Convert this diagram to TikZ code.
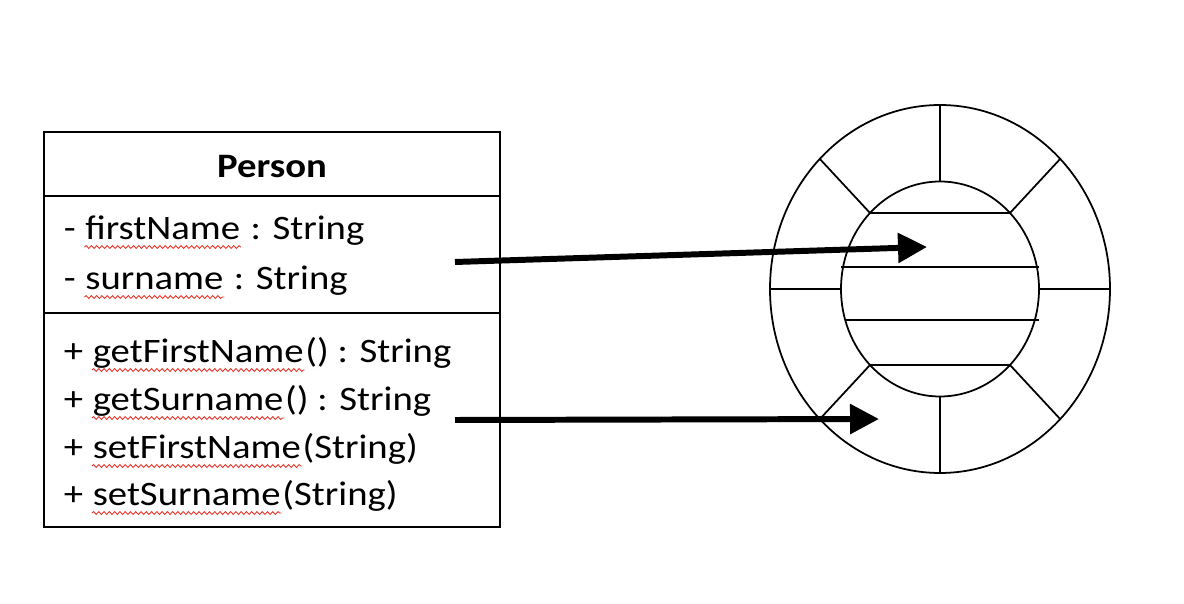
\documentclass[tikz,border=0pt]{standalone}
\usepackage{fontspec}
\setmainfont{Carlito}[FakeStretch=1.13]
\usetikzlibrary{arrows.meta,decorations.pathmorphing}
\definecolor{spellred}{RGB}{232,52,40}
\begin{document}
\begin{tikzpicture}[x=0.02cm,y=-0.02cm,line width=1pt,
	member/.style={anchor=base west,inner sep=0pt,font=\fontsize{19.5}{23}\selectfont},
	spell/.style={spellred,line width=0.5pt,decorate,decoration={snake,segment length=3pt,amplitude=0.8pt}},
	bigarrow/.style={line width=3.4pt,-{Triangle[length=16.5pt,width=16.5pt]}}]
		\useasboundingbox (0,0) rectangle (1184,604);
		% class box
		\draw (44,132) rectangle (500,527);
		\draw (44,196) -- (500,196);
		\draw (44,313) -- (500,313);
		\node[member,anchor=base,font=\fontsize{19.5}{23}\selectfont\bfseries] (cls) at (272,178) {Person};
		% members, with the spell-check underline below each name
		\foreach \y/\sign/\word/\rest in {240/-/firstName/{\ : String},290/-/surname/{\ : String},
			363/+/getFirstName/{() : String},411/+/getSurname/{() : String},
			459/+/setFirstName/{(String)},506/+/setSurname/{(String)}}
		{
			\node[member] (sign\y) at (63,\y) {\sign\kern0.23em};
			\node[member] (word\y) at (sign\y.base east) {\word};
			\node[member] (rest\y) at (word\y.base east) {\rest};
			\draw[spell] ([yshift=-4pt]word\y.base west) -- ([yshift=-4pt]word\y.base east);
		}
		% object ring
		\begin{scope}[shift={(940,289)}]
		\draw (0,0) ellipse [x radius=170,y radius=184];
		\draw (0,0) ellipse [x radius=99,y radius=107.5];
		\foreach \a in {0,45,...,315}
			\draw (\a:99 and 107.5) -- (\a:170 and 184);
		\draw (135:99 and 107.5) -- (45:99 and 107.5);
		\draw (-99,-22) -- (99,-22);
		\draw (-95,31) -- (99,31);
		\draw (225:99 and 107.5) -- (315:99 and 107.5);
		\end{scope}
		% messages
		\coordinate (tailA) at (455,262);
		\coordinate (headA) at (927,247);
		\coordinate (tailB) at (455,420);
		\coordinate (headB) at (879,419);
		\draw[bigarrow] (tailA) -- (headA);
		\draw[bigarrow] (tailB) -- (headB);
\end{tikzpicture}
\end{document}
